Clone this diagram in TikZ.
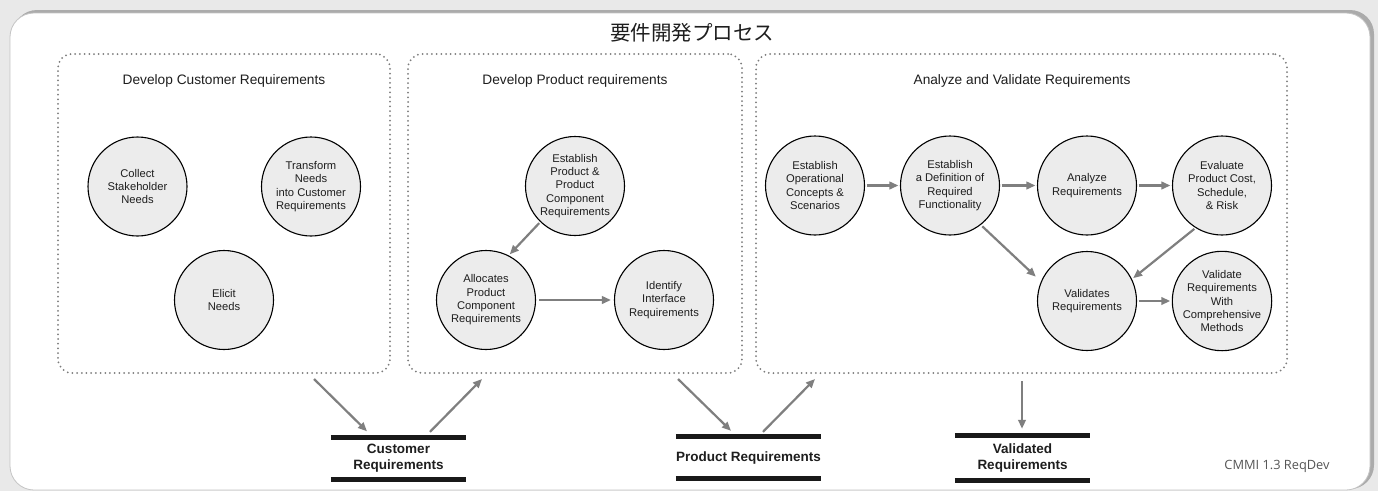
\documentclass[tikz,border=0pt]{standalone}
\usepackage{fontspec}
\setmainfont{Liberation Sans}
\newfontfamily\cjkfont{Noto Sans CJK JP}
\newfontfamily\notefont{Open Sans}
\usetikzlibrary{arrows.meta,calc}

\definecolor{pagebg}{HTML}{E9E9E9}
\definecolor{shadowgray}{HTML}{ABABAB}
\definecolor{framegray}{HTML}{C4C4C4}
\definecolor{dotgray}{HTML}{7C7C7C}
\definecolor{procfill}{HTML}{ECECEC}
\definecolor{flowgray}{HTML}{7F7F7F}
\definecolor{inkdark}{HTML}{1E1E1E}
\definecolor{notegray}{HTML}{555555}

\begin{document}
\begin{tikzpicture}[x=1pt,y=-1pt,
  stage/.style={draw=dotgray, line width=2pt, dash pattern=on 0pt off 4.7pt,
    line cap=round, rounded corners=14pt, minimum width=#1,
    minimum height=319pt, inner sep=0pt},
  stagetitle/.style={text=inkdark, font=\fontsize{13.7}{16}\selectfont},
  proc/.style={circle, draw=black, line width=1.1pt, fill=procfill,
    minimum size=99pt, inner sep=0pt, align=center, text=inkdark,
    font=\fontsize{11.2}{13.3}\selectfont},
  store/.style={minimum width=135pt, inner sep=0pt, align=center,
    text=inkdark, font=\bfseries\fontsize{13.5}{16}\selectfont},
  bar/.style={line width=5pt, draw=black!90},
  flow/.style={draw=flowgray, line width=2.2pt,
    -{Triangle[length=9pt,width=7.5pt]}, shorten <=1.5pt, shorten >=1.5pt}
]
% canvas and framed panel
\useasboundingbox (0,0) rectangle (1378,491);
\fill[pagebg] (0,0) rectangle (1378,491);
\fill[shadowgray, rounded corners=24pt] (13,10) rectangle (1374,489);
\filldraw[fill=white, draw=framegray, line width=0.8pt, rounded corners=24pt]
  (10,13) rectangle (1370,490);

% heading
\node[text=inkdark, font=\cjkfont\fontsize{20.5}{24}\selectfont] (heading) at (692,33) {要件開発プロセス};

% three stages
\node[stage=332pt] (box1) at (224,213.5) {};
\node[stage=334pt] (box2) at (575,213.5) {};
\node[stage=531pt] (box3) at (1021.5,213.5) {};
\node[stagetitle] (t1) at (224,81) {Develop Customer Requirements};
\node[stagetitle] (t2) at (575,80.5) {Develop Product requirements};
\node[stagetitle] (t3) at (1022,81) {Analyze and Validate Requirements};

% customer requirements
\node[proc] (csn) at (137.5,186.5) {Collect\\Stakeholder\\Needs};
\node[proc] (tn)  at (311,186.5) {Transform\\Needs\\into Customer\\Requirements};
\node[proc] (en)  at (224,300) {Elicit\\Needs};

% product requirements
\node[proc] (ep) at (575,186) {Establish\\Product \&\\Product\\Component\\Requirements};
\node[proc] (al) at (486,300) {Allocates\\Product\\Component\\Requirements};
\node[proc] (ii) at (664,300) {Identify\\Interface\\Requirements};
\draw[flow] (ep.226) -- (al.63);
\draw[flow, shorten <=3pt, shorten >=3pt] (al) -- (ii);

% analysis and validation
\node[proc] (eo) at (815,185.5) {Establish\\Operational\\Concepts \&\\Scenarios};
\node[proc] (ed) at (950,185.5) {Establish\\a Definition of\\Required\\Functionality};
\node[proc] (ar) at (1087,185.5) {Analyze\\Requirements};
\node[proc] (ev) at (1222,185.5) {Evaluate\\Product Cost,\\Schedule,\\\& Risk};
\node[proc] (vr) at (1087,301) {Validates\\Requirements};
\node[proc] (vw) at (1222,301) {Validate\\Requirements\\With\\Comprehensive\\Methods};
\draw[flow] (eo) -- (ed);
\draw[flow] (ed) -- (ar);
\draw[flow] (ar) -- (ev);
\draw[flow] (vr) -- (vw);
\draw[flow, shorten <=2pt, shorten >=7pt] (ed.-52) -- (vr.157);
\draw[flow] (ev.238) -- (vr.26);

% work products
\node[store, minimum height=42pt] (cust) at (398.5,458.5) {Customer\\Requirements};
\node[store, minimum height=42pt] (prod) at (748.5,457.5) {Product Requirements};
\node[store, minimum height=44.5pt] (valid) at (1022.5,457.75) {Validated\\Requirements};
\foreach \s in {cust,prod,valid}{
  \draw[bar] (\s.north west) -- (\s.north east);
  \draw[bar] (\s.south west) -- (\s.south east);
}

% flows between stages and work products
\draw[flow, shorten <=0pt, shorten >=0pt] ($(box1.south east)+(-77,5)$) -- ($(cust.north)+(-31.5,-6)$);
\draw[flow, shorten <=0pt, shorten >=0pt] ($(cust.north)+(31.5,-5.5)$) -- ($(box2.south west)+(75,5)$);
\draw[flow, shorten <=0pt, shorten >=0pt] ($(box2.south east)+(-65,5)$) -- ($(prod.north)+(-17.5,-5.5)$);
\draw[flow, shorten <=0pt, shorten >=0pt] ($(prod.north)+(14.5,-4.5)$) -- ($(box3.south west)+(60,5)$);
\draw[flow, shorten <=0pt, shorten >=0pt] ($(box3.south)+(0.5,7)$) -- ($(valid.north)+(-0.5,-6.5)$);

% source note
\node[text=notegray, font=\notefont\fontsize{12.8}{15}\selectfont] (note) at (1277,466) {CMMI 1.3 ReqDev};
\end{tikzpicture}
\end{document}
